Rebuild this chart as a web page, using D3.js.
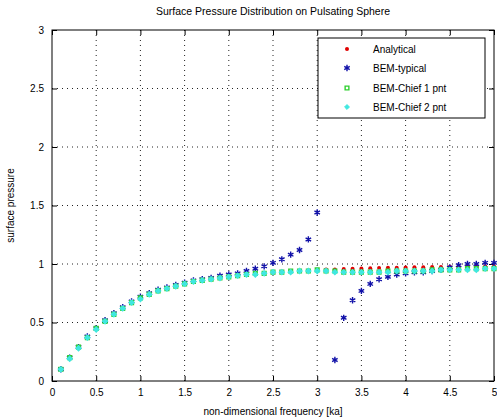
<!DOCTYPE html>
<html lang="en">

<head>
	<meta charset="utf-8">
	<title>Surface Pressure Distribution</title>
	<script src="https://d3js.org/d3.v7.min.js"></script>
	<style>
		body { margin: 0; background: #fff; }
		text { font-family: "Liberation Sans", Arial, sans-serif; }
	</style>
</head>

<body>
	<svg id="chart" width="497" height="420"></svg>

	<script type="text/javascript">
		// ka values (non-dimensional frequency)
		var ka = [0.1, 0.2, 0.3, 0.4, 0.5, 0.6, 0.7, 0.8, 0.9, 1.0,
			1.1, 1.2, 1.3, 1.4, 1.5, 1.6, 1.7, 1.8, 1.9, 2.0,
			2.1, 2.2, 2.3, 2.4, 2.5, 2.6, 2.7, 2.8, 2.9, 3.0,
			3.1, 3.2, 3.3, 3.4, 3.5, 3.6, 3.7, 3.8, 3.9, 4.0,
			4.1, 4.2, 4.3, 4.4, 4.5, 4.6, 4.7, 4.8, 4.9, 5.0];

		var analytical = [0.10, 0.196, 0.287, 0.371, 0.447, 0.514, 0.573, 0.625, 0.669, 0.707,
			0.740, 0.768, 0.793, 0.814, 0.832, 0.848, 0.862, 0.874, 0.885, 0.894,
			0.903, 0.910, 0.917, 0.923, 0.928, 0.933, 0.938, 0.942, 0.945, 0.949,
			0.952, 0.954, 0.957, 0.959, 0.962, 0.964, 0.965, 0.967, 0.969, 0.970,
			0.972, 0.973, 0.974, 0.975, 0.976, 0.977, 0.978, 0.979, 0.980, 0.981];

		// plain BEM - blows up near ka = pi (3.1 is off the chart)
		var bemPlain = [0.10, 0.20, 0.29, 0.38, 0.45, 0.52, 0.58, 0.63, 0.68, 0.72,
			0.75, 0.78, 0.80, 0.82, 0.84, 0.86, 0.87, 0.88, 0.90, 0.91,
			0.92, 0.94, 0.96, 0.98, 1.01, 1.04, 1.08, 1.12, 1.21, 1.44,
			null, 0.18, 0.54, 0.69, 0.77, 0.83, 0.87, 0.89, 0.91, 0.92,
			0.93, 0.93, 0.94, 0.95, 0.97, 0.99, 1.00, 1.00, 1.01, 1.01];

		var chief1 = [0.10, 0.20, 0.29, 0.37, 0.45, 0.51, 0.57, 0.62, 0.67, 0.71,
			0.74, 0.77, 0.79, 0.81, 0.83, 0.85, 0.86, 0.87, 0.88, 0.89,
			0.90, 0.91, 0.92, 0.92, 0.93, 0.93, 0.94, 0.94, 0.94, 0.95,
			0.94, 0.94, 0.93, 0.93, 0.93, 0.93, 0.93, 0.94, 0.94, 0.94,
			0.94, 0.94, 0.95, 0.95, 0.95, 0.95, 0.96, 0.96, 0.96, 0.96];

		var chief2 = [0.10, 0.19, 0.28, 0.37, 0.44, 0.51, 0.57, 0.62, 0.67, 0.70,
			0.74, 0.77, 0.79, 0.81, 0.83, 0.85, 0.86, 0.87, 0.88, 0.89,
			0.90, 0.91, 0.91, 0.92, 0.93, 0.93, 0.93, 0.94, 0.94, 0.94,
			0.94, 0.93, 0.93, 0.93, 0.93, 0.93, 0.93, 0.93, 0.94, 0.94,
			0.94, 0.94, 0.94, 0.95, 0.95, 0.95, 0.95, 0.95, 0.96, 0.96];

		var xTicks = [0, 0.5, 1, 1.5, 2, 2.5, 3, 3.5, 4, 4.5, 5];
		var yTicks = [0, 0.5, 1, 1.5, 2, 2.5, 3];
		var seriesNames = ["Analytical", "BEM-typical", "BEM-Chief 1 pnt", "BEM-Chief 2 pnt"];

		//****************** canvas *********************//
		var margin = { top: 30, right: 3, bottom: 39, left: 52 },
			width = 497 - margin.left - margin.right,
			height = 420 - margin.top - margin.bottom;

		var svg = d3.select("#chart")
			.append("g")
			.attr("transform", "translate(" + margin.left + "," + margin.top + ")");

		var scaleX = d3.scaleLinear().domain([0, 5]).range([0, width]);
		var scaleY = d3.scaleLinear().domain([0, 3]).range([height, 0]);

		// dotted grid
		svg.selectAll(".gx").data(xTicks.slice(1, -1)).enter().append("line")
			.attr("x1", function (d) { return scaleX(d) }).attr("x2", function (d) { return scaleX(d) })
			.attr("y1", 0).attr("y2", height)
			.attr("stroke", "#222").attr("stroke-dasharray", "1,4");
		svg.selectAll(".gy").data(yTicks.slice(1, -1)).enter().append("line")
			.attr("y1", function (d) { return scaleY(d) }).attr("y2", function (d) { return scaleY(d) })
			.attr("x1", 0).attr("x2", width)
			.attr("stroke", "#222").attr("stroke-dasharray", "1,4");

		// axes, ticks inward on all four sides
		function styleAxis(g) {
			g.select(".domain").remove();
			g.selectAll("line").attr("stroke", "#000");
			g.selectAll("text").attr("font-size", 10).attr("fill", "#000");
		}
		svg.append("g").attr("transform", "translate(0," + height + ")")
			.call(d3.axisBottom(scaleX).tickValues(xTicks).tickSize(-5).tickPadding(8).tickFormat(d3.format("")))
			.call(styleAxis);
		svg.append("g")
			.call(d3.axisTop(scaleX).tickValues(xTicks).tickSize(-5).tickFormat(""))
			.call(styleAxis);
		svg.append("g")
			.call(d3.axisLeft(scaleY).tickValues(yTicks).tickSize(-5).tickPadding(8).tickFormat(d3.format("")))
			.call(styleAxis);
		svg.append("g").attr("transform", "translate(" + width + ",0)")
			.call(d3.axisRight(scaleY).tickValues(yTicks).tickSize(-5).tickFormat(""))
			.call(styleAxis);
		svg.append("rect").attr("width", width).attr("height", height)
			.attr("fill", "none").attr("stroke", "#000");

		//****************** markers *********************//
		var star = d3.symbol().type(d3.symbolAsterisk).size(28);
		var square = d3.symbol().type(d3.symbolSquare).size(14);
		var diamond = d3.symbol().type(d3.symbolDiamond2).size(15);

		function pts(vals) {
			return ka.map(function (k, i) { return { x: k, y: vals[i] } })
				.filter(function (d) { return d.y !== null });
		}
		var plotArea = svg.append("g");

		plotArea.selectAll(".an").data(pts(analytical)).enter().append("circle")
			.attr("cx", function (d) { return scaleX(d.x) })
			.attr("cy", function (d) { return scaleY(d.y) })
			.attr("r", 2).attr("fill", "#e00000");

		function drawSym(vals, sym, color, fillIt) {
			plotArea.selectAll(null).data(pts(vals)).enter().append("path")
				.attr("d", sym)
				.attr("transform", function (d) { return "translate(" + scaleX(d.x) + "," + scaleY(d.y) + ")" })
				.attr("fill", fillIt ? color : "none")
				.attr("stroke", color).attr("stroke-width", 1.4);
		}
		drawSym(bemPlain, star, "#1010a8", false);
		drawSym(chief1, square, "#30d030", false);
		drawSym(chief2, diamond, "#40e8e0", true);

		//****************** legend *********************//
		var legend = svg.append("g").attr("transform", "translate(" + (318 - margin.left) + "," + (38 - margin.top) + ")");
		legend.append("rect").attr("width", 167).attr("height", 80)
			.attr("fill", "#fff").attr("stroke", "#000");
		var legY = [11, 30, 50, 69];
		legend.append("circle").attr("cx", 29).attr("cy", legY[0]).attr("r", 2).attr("fill", "#e00000");
		legend.append("path").attr("d", star).attr("transform", "translate(29," + legY[1] + ")")
			.attr("fill", "none").attr("stroke", "#1010a8").attr("stroke-width", 1.4);
		legend.append("path").attr("d", square).attr("transform", "translate(29," + legY[2] + ")")
			.attr("fill", "none").attr("stroke", "#30d030").attr("stroke-width", 1.4);
		legend.append("path").attr("d", diamond).attr("transform", "translate(29," + legY[3] + ")")
			.attr("fill", "#40e8e0").attr("stroke", "#40e8e0");
		legend.selectAll(".lt").data(seriesNames).enter().append("text")
			.attr("x", 55).attr("y", function (d, i) { return legY[i] + 4 })
			.attr("font-size", 10).text(function (d) { return d });

		//****************** titles *********************//
		svg.append("text").attr("x", width / 2).attr("y", -15)
			.attr("text-anchor", "middle").attr("font-size", 10.5)
			.text("Surface Pressure Distribution on Pulsating Sphere");
		svg.append("text").attr("x", width / 2).attr("y", height + 34)
			.attr("text-anchor", "middle").attr("font-size", 10)
			.text("non-dimensional frequency [ka]");
		svg.append("text").attr("transform", "translate(-38," + height / 2 + ") rotate(-90)")
			.attr("text-anchor", "middle").attr("font-size", 10)
			.text("surface pressure");
	</script>

</body>

</html>
